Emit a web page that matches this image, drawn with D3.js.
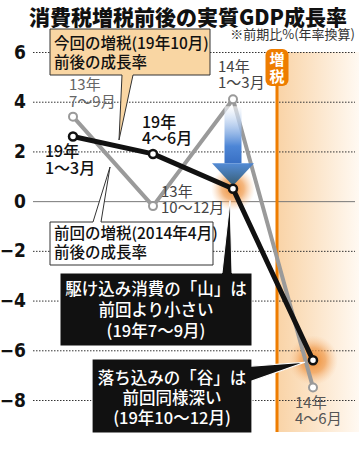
<!DOCTYPE html>
<html><head><meta charset="utf-8">
<script src="https://cdn.jsdelivr.net/npm/d3@7"></script>
<style>
html,body{margin:0;padding:0;background:#fff;}
svg{display:block;font-family:"Noto Sans CJK JP","Noto Sans",sans-serif;}
</style></head>
<body>
<svg id="c" width="359" height="450"></svg>
<script>
// ---- data ----
const slots = ["t-3", "t-2", "t-1", "t"];               // quarters relative to tax hike
const current = [2.6, 1.9, 0.5, -6.4];                  // 19年1〜3月 … 19年10〜12月
const previous = [3.4, -0.2, 4.1, -7.5];                // 13年7〜9月 … 14年4〜6月
const currentLabels = [["19年", "1〜3月"], ["19年", "4〜6月"], null, null];
const previousLabels = [["13年", "7〜9月"], ["13年", "10〜12月"], ["14年", "1〜3月"], ["14年", "4〜6月"]];
const yTicks = [6, 4, 2, 0, -2, -4, -6, -8];
const title = "消費税増税前後の実質GDP成長率";
const subtitle = "※前期比%(年率換算)";

const svg = d3.select("#c");
const defs = svg.append("defs");
const x = d3.scalePoint().domain(slots).range([73, 313]);
const y = d3.scaleLinear().domain([-8, 6]).range([400, 52]);
const hikeX = 277;

// gradients
const sg = defs.append("linearGradient").attr("id", "shade").attr("x1", 0).attr("x2", 1).attr("y1", 0).attr("y2", 0);
sg.append("stop").attr("offset", 0).attr("stop-color", "#f9d3a6");
sg.append("stop").attr("offset", 1).attr("stop-color", "#fff9f2");
const gl = defs.append("radialGradient").attr("id", "glow");
gl.append("stop").attr("offset", 0).attr("stop-color", "#ec8526").attr("stop-opacity", 0.95);
gl.append("stop").attr("offset", 0.5).attr("stop-color", "#f0994a").attr("stop-opacity", 0.7);
gl.append("stop").attr("offset", 1).attr("stop-color", "#f8c494").attr("stop-opacity", 0);
const ag = defs.append("linearGradient").attr("id", "arrowG").attr("x1", 0).attr("x2", 0).attr("y1", 0).attr("y2", 1);
ag.append("stop").attr("offset", 0).attr("stop-color", "#ffffff").attr("stop-opacity", 0.6);
ag.append("stop").attr("offset", 0.7).attr("stop-color", "#4d86d6");
ag.append("stop").attr("offset", 1).attr("stop-color", "#3970c4");
const ah = defs.append("linearGradient").attr("id", "arrowH").attr("x1", 0).attr("x2", 0).attr("y1", 0).attr("y2", 1);
ah.append("stop").attr("offset", 0).attr("stop-color", "#4a85d4");
ah.append("stop").attr("offset", 1).attr("stop-color", "#2e5a74");

// shaded post-hike area
svg.append("rect").attr("x", hikeX).attr("y", y(6)).attr("width", 359 - hikeX).attr("height", 432 - y(6)).attr("fill", "url(#shade)");

// title
svg.append("text").attr("x", 188).attr("y", 24.5).attr("text-anchor", "middle")
  .attr("font-size", 21).attr("font-weight", 900).attr("fill", "#111").text(title);
svg.append("text").attr("x", 355).attr("y", 39).attr("text-anchor", "end").attr("font-size", 13).attr("fill", "#333").text(subtitle);

// axis + grid
const ax = svg.append("g").attr("transform", "translate(33,0)")
  .call(d3.axisLeft(y).tickValues(yTicks).tickSize(-(355 - 33)).tickPadding(7)
    .tickFormat(d => (d < 0 ? "\u2212" + Math.abs(d) : String(d))));
ax.select(".domain").remove();
ax.selectAll(".tick line").attr("stroke", "#333").attr("stroke-dasharray", "1.5,1.5").attr("stroke-width", 1);
ax.selectAll(".tick").filter(d => d === 0).select("line").attr("stroke", "#777").attr("stroke-dasharray", null);
ax.selectAll(".tick text").attr("font-family", "'DejaVu Sans Condensed','Liberation Sans Narrow',sans-serif")
  .attr("font-size", 19).attr("font-weight", 700).attr("fill", "#111");

// hike line + badge
svg.append("line").attr("x1", hikeX).attr("x2", hikeX).attr("y1", 80).attr("y2", 432).attr("stroke", "#ee7d00").attr("stroke-width", 3);
svg.append("rect").attr("x", 265.5).attr("y", 49).attr("width", 23).attr("height", 37).attr("rx", 6).attr("fill", "#ee7d00");
svg.append("text").attr("x", 277).attr("y", 65).attr("text-anchor", "middle").attr("font-size", 15).attr("font-weight", 700).attr("fill", "#fff").text("増");
svg.append("text").attr("x", 277).attr("y", 82).attr("text-anchor", "middle").attr("font-size", 15).attr("font-weight", 700).attr("fill", "#fff").text("税");

// glows
[2, 3].forEach(i => {
  svg.append("circle").attr("cx", x(slots[i])).attr("cy", y(current[i])).attr("r", i === 2 ? 22 : 25).attr("fill", "url(#glow)");
});

const line = d3.line().x((d, i) => x(slots[i])).y(d => y(d));

// previous series
svg.append("path").attr("d", line(previous)).attr("fill", "none").attr("stroke", "#9a9a9a").attr("stroke-width", 4).attr("stroke-linejoin", "round");

// blue arrow from 14年1〜3月 toward 19年7〜9月
const ax0 = x(slots[2]);
const aTop = y(previous[2]) + 7, aNeck = y(previous[2]) + 64, aTip = y(current[2]) - 3;
svg.append("rect").attr("x", ax0 - 8.5).attr("y", aTop).attr("width", 17).attr("height", aNeck - aTop).attr("fill", "url(#arrowG)");
svg.append("path").attr("d", `M${ax0 - 21},${aNeck} L${ax0 + 21},${aNeck} L${ax0},${aTip} Z`).attr("fill", "url(#arrowH)").attr("opacity", 0.95);

// current series
svg.append("path").attr("d", line(current)).attr("fill", "none").attr("stroke", "#111").attr("stroke-width", 5).attr("stroke-linejoin", "round");

// points
svg.selectAll(".pp").data(previous).join("circle").attr("cx", (d, i) => x(slots[i])).attr("cy", d => y(d))
  .attr("r", 4).attr("fill", "#fff").attr("stroke", "#9a9a9a").attr("stroke-width", 2);
svg.selectAll(".pc").data(current).join("circle").attr("cx", (d, i) => x(slots[i])).attr("cy", d => y(d))
  .attr("r", 4).attr("fill", "#fff").attr("stroke", "#111").attr("stroke-width", 2.5);

// point labels
function twoLine(lines, px, py, color, size, gap, weight) {
  const t = svg.append("text").attr("font-size", size).attr("fill", color).attr("font-weight", weight || 400);
  lines.forEach((s, k) => t.append("tspan").attr("x", px).attr("y", py + k * gap).text(s));
}
const pl = previousLabels;
twoLine(pl[0], x(slots[0]) - 4, y(previous[0]) - 27, "#666", 15, 17);
twoLine(pl[1], x(slots[1]) + 8, y(previous[1]) - 9, "#444", 15, 16);
twoLine(pl[2], x(slots[2]) - 15, y(previous[2]) - 27, "#444", 15, 16);
twoLine(pl[3], x(slots[3]) - 18, y(previous[3]) + 20, "#555", 15, 16);
const cl = currentLabels;
twoLine(cl[0], x(slots[0]) - 28, y(current[0]) + 20, "#111", 16, 17, 500);
twoLine(cl[1], x(slots[1]) - 11, y(current[1]) - 26, "#111", 16, 16, 500);

// callout: current hike (beige)
svg.append("path").attr("d", "M50,29 H210 V75 H133 L119,140 L122,75 H50 Z").attr("fill", "#f9d6a3").attr("stroke", "#333").attr("stroke-width", 1);
twoLine(["今回の増税(19年10月)", "前後の成長率"], 54, 49, "#111", 15.5, 19, 500);

// callout: previous hike (white)
svg.append("path").attr("d", "M50,222 H93 L110,167 L101,222 H213 V265 H50 Z").attr("fill", "#fff").attr("stroke", "#333").attr("stroke-width", 1);
twoLine(["前回の増税(2014年4月)", "前後の成長率"], 54, 239, "#111", 15.5, 19, 500);

// black callout 1 (peak)
const c3x = x(slots[2]), c3y = y(current[2]);
svg.append("path").attr("d", `M60,273 H222 L${c3x - 3},${c3y + 12} L232,273 H252 V346 H60 Z`).attr("fill", "#111").attr("stroke", "#fff").attr("stroke-width", 1);
const t1 = svg.append("text").attr("font-size", 16.5).attr("font-weight", 500).attr("fill", "#fff").attr("text-anchor", "middle");
["駆け込み消費の「山」は", "前回より小さい", "(19年7〜9月)"].forEach((s, k) => t1.append("tspan").attr("x", 156).attr("y", 295 + k * 21).text(s));

// black callout 2 (trough)
const c4x = x(slots[3]), c4y = y(current[3]);
svg.append("path").attr("d", `M92,359 H252 V366 L${c4x - 8},${c4y + 2} L252,381 V433 H92 Z`).attr("fill", "#111").attr("stroke", "#fff").attr("stroke-width", 1.2);
const t2 = svg.append("text").attr("font-size", 16.5).attr("font-weight", 500).attr("fill", "#fff").attr("text-anchor", "middle");
["落ち込みの「谷」は", "前回同様深い", "(19年10〜12月)"].forEach((s, k) => t2.append("tspan").attr("x", 172).attr("y", 384 + k * 20).text(s));
</script>
</body></html>
